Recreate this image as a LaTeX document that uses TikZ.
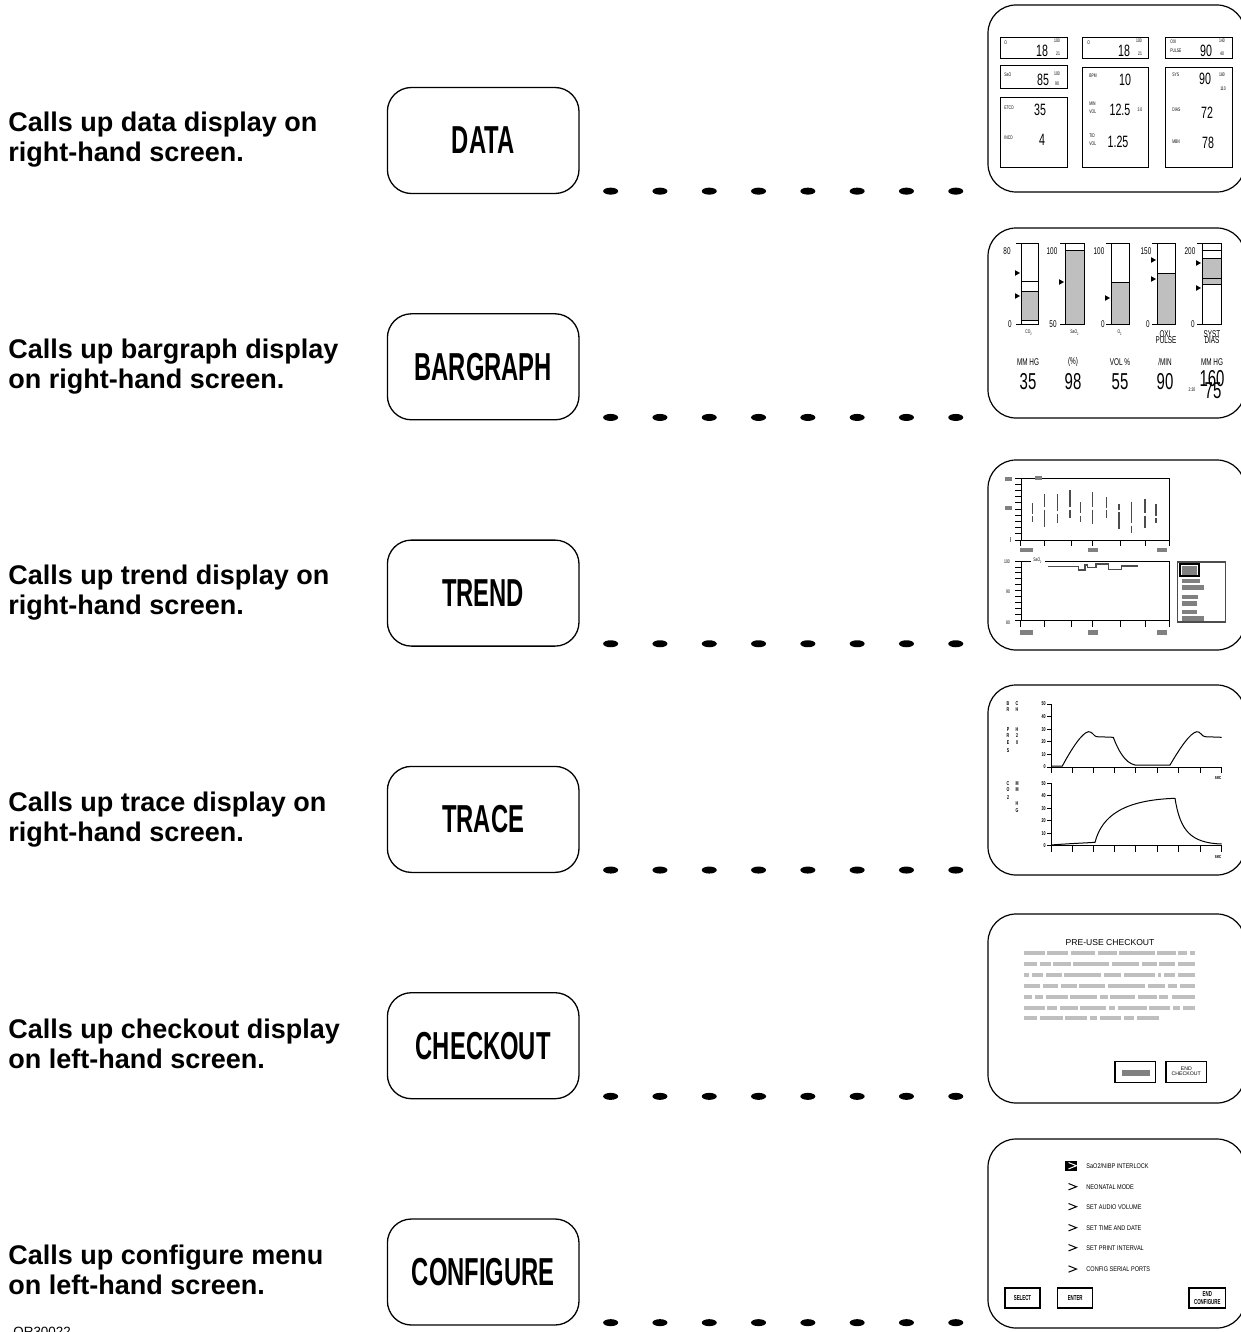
\documentclass[tikz,border=0pt]{standalone}
\usepackage{fontspec}
\setmainfont{Liberation Sans}
\newfontfamily\btnfont[FakeStretch=0.61]{Liberation Sans}
\newfontfamily\scrfont[FakeStretch=0.65]{Liberation Sans}
\newfontfamily\menufont[FakeStretch=0.82]{Liberation Sans}
\usetikzlibrary{calc}
\definecolor{lgray}{gray}{0.75}
\definecolor{mgray}{gray}{0.5}
\definecolor{dgray}{gray}{0.3}
\begin{document}
\begin{tikzpicture}[x=0.5pt,y=-0.5pt,
 lbl/.style={anchor=base west,inner sep=0pt,font=\fontsize{13.5}{15}\selectfont\bfseries},
 btn/.style={draw,line width=0.65pt,rounded corners=12pt,minimum width=95.8pt,minimum height=53pt,inner sep=0pt,font=\btnfont\bfseries\fontsize{19.5}{20}\selectfont},
 screen/.style={draw,line width=0.6pt,rounded corners=14pt,minimum width=128.5pt,inner sep=0pt},
 sb/.style={draw,line width=0.45pt},
 tiny/.style={inner sep=0pt,font=\scrfont\fontsize{2.6}{3}\selectfont},
 tinyw/.style={tiny,anchor=west},
 mid/.style={inner sep=0pt,font=\scrfont\fontsize{4.9}{5}\selectfont},
 big/.style={inner sep=0pt,font=\scrfont\fontsize{8.2}{9}\selectfont},
 val/.style={inner sep=0pt,font=\scrfont\fontsize{11.5}{12}\selectfont},
 trl/.style={inner sep=0pt,font=\scrfont\bfseries\fontsize{2.8}{3}\selectfont},
 vl/.style={draw=dgray,line width=0.65pt},
 mtxt/.style={anchor=west,inner sep=0pt,font=\menufont\fontsize{3.4}{4}\selectfont},
 sbtn/.style={inner sep=0pt,font=\btnfont\bfseries\fontsize{3.6}{4}\selectfont},
 small/.style={inner sep=0pt,font=\fontsize{2.6}{3}\selectfont},
]
\useasboundingbox (0,0) rectangle (1241,1332);
\clip (0,0) rectangle (1241,1332);
\fill[white] (0,0) rectangle (1241,1332);

% ---------- rows: labels, buttons, dotted connectors ----------
\foreach \i/\la/\lb/\bt in {0/Calls up data display on/right-hand screen./DATA,
  1/Calls up bargraph display/on right-hand screen./BARGRAPH,
  2/Calls up trend display on/right-hand screen./TREND,
  3/Calls up trace display on/right-hand screen./TRACE,
  4/Calls up checkout display/on left-hand screen./CHECKOUT,
  5/Calls up configure menu/on left-hand screen./CONFIGURE} {
  \pgfmathsetmacro\by{140.5+226.3*\i}
  \pgfmathsetmacro\ly{131.7+226.6*\i}
  \node[btn] (b\i) at (483.2,\by) {\bt};
  \node[lbl] (la\i) at (8,\ly) {\la};
  \node[lbl] (lb\i) at (8,\ly+30) {\lb};
  \foreach \k in {0,...,7}
    \fill ($(b\i.south east)+({31+\k*49.3},-3)$) ellipse [x radius=3.75pt,y radius=1.75pt];
}
\node[anchor=base west,inner sep=0pt,font=\fontsize{6.7}{7}\selectfont] (code) at (13,1336.5) {OR30022};

% ---------- screen 1 : DATA ----------
\node[screen,minimum height=93.5pt] (s1) at (1116.5,98.5) {};
\foreach \a/\b/\c/\d in {1000/37/1067/58, 1082/37/1148/58, 1165/37/1232/58, 1000/65/1067/88,
  1000/97/1067/167, 1082/67/1148/167, 1165/67/1232/167}
  \draw[sb] (\a,\b) rectangle (\c,\d);
\foreach \s/\px/\py/\t [count=\n] in {tinyw/1004/43/O, big/1042/50.5/18, tiny/1057/41/100, tiny/1058/54/21,
  tinyw/1087/43/O, big/1124/50.5/18, tiny/1139/41/100, tiny/1140/54/21,
  tinyw/1170/41.5/OXI, tinyw/1170/50.5/PULSE, big/1206/50.5/90, tiny/1222/41/140, tiny/1222/54/40,
  tinyw/1004/75/SaO, big/1043/80/85, tiny/1057/74/100, tiny/1057/84/90,
  tinyw/1004/108/ETCO, big/1040/110/35, tinyw/1004/138/INCO, big/1042/140/4,
  tinyw/1089/76/BPM, big/1125/80/10, tinyw/1089/104/MIN, tinyw/1089/112/VOL, big/1120/110/12.5, tiny/1140/110/3.0,
  tinyw/1089/136/TID, tinyw/1089/144/VOL, big/1118/142/1.25,
  tinyw/1172/75/SYS, big/1205/79/90, tiny/1222/75/180, tiny/1223/89/110,
  tinyw/1172/110/DIAS, big/1207/113/72, tinyw/1172/142/MBN, big/1208/143/78}
  \node[\s] (da\n) at (\px,\py) {\t};

% ---------- screen 2 : BARGRAPH ----------
\node[screen,minimum height=95pt] (s2) at (1116.5,323) {};
\fill[lgray] (1021,291) rectangle (1038,320);
\draw[sb] (1021,291) -- (1038,291) (1021,320) -- (1038,320) (1021,281) -- (1038,281);
\foreach \l/\r/\g in {1065/1084/250, 1111/1129/282, 1157/1175/273} {
  \fill[lgray] (\l,\g) rectangle (\r,324);
  \draw[sb] (\l,\g) -- (\r,\g);
}
\fill[lgray] (1202,258) rectangle (1221,284);
\draw[sb] (1202,250) -- (1221,250) (1202,258) -- (1221,258) (1202,278) -- (1221,278) (1202,284) -- (1221,284);
\foreach \l/\r in {1021/1038, 1065/1084, 1111/1129, 1157/1175, 1202/1221} {
  \draw[sb] (\l,243) rectangle (\r,324);
  \draw[sb] (\l-5,243) -- (\l,243) (\l-5,324) -- (\l,324);
}
\foreach \tx/\ty in {1020/273, 1020/296, 1064/282, 1110/298, 1156/260, 1156/279, 1201/263, 1201/288}
  \fill (\tx,\ty) -- ++(-5,-2.8) -- ++(0,5.6) -- cycle;
\foreach \s/\px/\py/\t [count=\n] in {mid/1007/251/80, mid/1010/324/0, mid/1052/251/100, mid/1053/324/50,
  mid/1099/251/100, mid/1103/324/0, mid/1146/251/150, mid/1148/324/0, mid/1190/251/200, mid/1193/324/0,
  tiny/1029/333/CO\textsubscript{2}, tiny/1075/333/SaO\textsubscript{2}, tiny/1120/333/O\textsubscript{2},
  mid/1165/334/OXI, mid/1166/340/PULSE, mid/1212/334/SYST, mid/1212/340/DIAS,
  mid/1028/362/MM HG, mid/1073/362/(\%), mid/1120/362/VOL \%, mid/1165/362/{/MIN}, mid/1212/362/MM HG,
  val/1028/382/35, val/1073/382/98, val/1120/382/55, val/1165/382/90, val/1212/379/160, val/1213/391/75,
  tiny/1192/390/2:20}
  \node[\s] (bg\n) at (\px,\py) {\t};

% ---------- screen 3 : TREND ----------
\node[screen,minimum height=95pt] (s3) at (1116.5,555) {};
\draw[sb] (1021,478) rectangle (1169,540);
\foreach \k in {0,...,10} \draw[sb] (1015,{478+\k*6.2}) -- (1021,{478+\k*6.2});
\foreach \px in {1020.7,1044.3,1071,1092.3,1120,1145,1169.3} {
  \draw[sb] (\px,540) -- (\px,546);
  \draw[sb] (\px,620.7) -- (\px,627);
}
\fill[mgray] (1035,475.5) rectangle (1042,479.5);
\fill[mgray] (1005,477) rectangle (1012,481);
\fill[mgray] (1005,506) rectangle (1012,510);
\fill[mgray] (1009.5,537) rectangle (1011,542);
\foreach \a/\b in {1020/1033, 1088/1098, 1157/1167} {
  \fill[mgray] (\a,548.3) rectangle (\b,552.3);
  \fill[mgray] (\a,630.3) rectangle (\b,634.7);
}
\foreach \px/\t/\g/\b in {1032.7/503.3/515/521.7, 1044.3/494/508.3/526.7, 1057.3/494.3/512.3/522.7,
  1070/490/508.3/517.7, 1080.7/502.3/514.3/521.7, 1092.3/492.3/508.3/524, 1106.7/497.3/509/517.7,
  1119/504.3/511/529, 1131.7/501.7/524.3/532.7, 1145/499/514.3/527.7, 1156/504.3/516.7/523.3} {
  \draw[vl] (\px,\t) -- (\px,\g-1.2);
  \draw[vl] (\px,\g+1.2) -- (\px,\b);
}
\draw[sb] (1021,561) rectangle (1169,620.7);
\foreach \k in {0,...,10} \draw[sb] (1015,{561+\k*5.97}) -- (1021,{561+\k*5.97});
\node[tiny,fill=white,inner xsep=1pt] (tsa) at (1038,561) {SaO\textsubscript{2}};
\node[tiny] (t100) at (1007,562) {100};
\node[tiny] (t90) at (1008,592) {90};
\node[tiny] (t80) at (1008,623) {80};
\draw[dgray,line width=0.6pt] (1048.3,566.7) -- (1078.3,566.7) -- (1078.3,570) -- (1085,570) -- (1085,565)
  -- (1087.3,565) -- (1087.3,567.7) -- (1096,567.7) -- (1096,564) -- (1108.3,564) -- (1108.3,569.3)
  -- (1121.7,569.3) -- (1121.7,566) -- (1138.3,566);
\draw[draw=dgray,line width=0.6pt] (1177.7,562) rectangle (1225.7,622);
\fill[mgray] (1182,566) rectangle (1197,574.5);
\draw[line width=0.7pt] (1180,564) rectangle (1199,576);
\foreach \a/\b/\c/\d in {1182/579/1200/583, 1182/585/1204/590, 1182/595/1198/599,
  1182/601/1197/606, 1182/610/1197/614, 1182/616/1204/621}
  \fill[mgray] (\a,\b) rectangle (\c,\d);

% ---------- screen 4 : TRACE ----------
\node[screen,minimum height=95pt] (s4) at (1116.5,780) {};
\draw[sb] (1051,704) -- (1051,767) -- (1221.7,767);
\draw[sb] (1051,783.3) -- (1051,845.7) -- (1221.7,845.7);
\foreach \px in {1051,1072.3,1093.3,1114.3,1135.7,1157.3,1178.3,1200,1221.7} {
  \draw[sb] (\px,767) -- (\px,772.5);
  \draw[sb] (\px,845.7) -- (\px,851.5);
}
\foreach \v [count=\n] in {50,40,30,20,10,0} {
  \pgfmathsetmacro\ua{704+(\n-1)*12.6}
  \pgfmathsetmacro\ub{783.3+(\n-1)*12.48}
  \draw[sb] (1047,\ua) -- (1051,\ua) (1047,\ub) -- (1051,\ub);
  \node[trl,anchor=east] (ua\n) at (1046,\ua) {\v};
  \node[trl,anchor=east] (ub\n) at (1046,\ub) {\v};
}
\foreach \t/\px/\py [count=\n] in {B/1008/704, R/1008/709.7, P/1008/729.7, R/1008/736, E/1008/742.3, S/1008/750.7,
  C/1017/704, H/1017/709.7, H/1017/729.7, 2/1017/736, 0/1017/742.3,
  C/1008/783.3, O/1008/790, 2/1008/797.3, M/1017/783.3, M/1017/790, H/1017/804, G/1017/811}
  \node[trl] (tl\n) at (\px,\py) {\t};
\node[trl] (us1) at (1218,778) {sec};
\node[trl] (us2) at (1218,857) {sec};
\draw[line width=0.5pt] (1051,766) -- (1062.3,766) .. controls (1072,748) and (1082,733) .. (1088.3,731.7)
  .. controls (1092,731) and (1094,736.5) .. (1096.7,736.7) -- (1113.3,737.3)
  .. controls (1118,750) and (1125,763) .. (1135,765) -- (1170,765)
  .. controls (1180,748) and (1190,733) .. (1196.7,731.7)
  .. controls (1200,731) and (1202,736.5) .. (1205,736.7) -- (1221.7,737.3);
\draw[line width=0.5pt] (1051,845) .. controls (1070,843.5) and (1085,843) .. (1095,842.3)
  .. controls (1102,815) and (1125,800) .. (1175,798.3)
  .. controls (1180,830) and (1190,843) .. (1221.7,844);

% ---------- screen 5 : CHECKOUT ----------
\node[screen,minimum height=94.5pt] (s5) at (1116.5,1008.5) {};
\node[inner sep=0pt,font=\fontsize{4.3}{5}\selectfont] (ck) at (1110,942.7) {PRE-USE CHECKOUT};
\foreach \py/\segs in {953.3/{117/180,187/250,258/330,340/395,403/510,517/572,580/605,615/630},
  964/{117/155,165/198,205/258,265/372,382/462,470/515,523/570,578/630},
  975/{117/132,140/175,182/230,238/348,356/408,417/510,518/528,537/570,580/630},
  986/{117/165,173/220,228/275,283/360,368/480,488/540,548/577,585/630},
  997.3/{117/140,150/175,183/248,256/335,345/368,375/450,458/515,523/550,560/630},
  1008.3/{117/180,187/217,225/278,286/363,372/390,400/485,493/555,563/585,595/630},
  1018.3/{117/157,165/233,241/305,315/335,345/408,417/448,456/522}} {
  \foreach \a/\b in \segs
    \fill[lgray] ({985+\a/3},\py-2) rectangle ({985+\b/3},\py+2);
}
\draw[line width=0.6pt] (1115,1061.7) rectangle (1155.7,1082.7);
\fill[mgray] (1122.3,1070) rectangle (1150,1075.7);
\draw[line width=0.6pt] (1166,1061.7) rectangle (1206.7,1082.7);
\node[small] (ce) at (1186.3,1068.5) {END};
\node[small] (cc) at (1186.3,1074) {CHECKOUT};

% ---------- screen 6 : CONFIGURE ----------
\node[screen,minimum height=94.5pt] (s6) at (1116.5,1233.5) {};
\fill (1065,1161) rectangle (1077,1170.5);
\foreach \py/\c/\t [count=\n] in {1165.7/white/{SaO2/NIBP INTERLOCK}, 1186.7/black/NEONATAL MODE,
  1206.7/black/SET AUDIO VOLUME, 1227.7/black/SET TIME AND DATE, 1247.7/black/SET PRINT INTERVAL,
  1269/black/CONFIG SERIAL PORTS} {
  \draw[\c,line width=0.5pt] (1068.5,\py-3.2) -- (1076.5,\py) -- (1068.5,\py+3.2);
  \node[mtxt] (m\n) at (1086,\py) {\t};
}
\draw[line width=0.6pt] (1005,1288) rectangle (1040,1308);
\node[sbtn] (bsel) at (1022.5,1298) {SELECT};
\draw[line width=0.6pt] (1057.7,1288) rectangle (1092.7,1308);
\node[sbtn] (bent) at (1075.2,1298) {ENTER};
\draw[line width=0.6pt] (1189,1288) rectangle (1225.7,1308);
\node[sbtn] (bend1) at (1207.3,1294) {END};
\node[sbtn] (bend2) at (1207.3,1302.5) {CONFIGURE};
\end{tikzpicture}
\end{document}
